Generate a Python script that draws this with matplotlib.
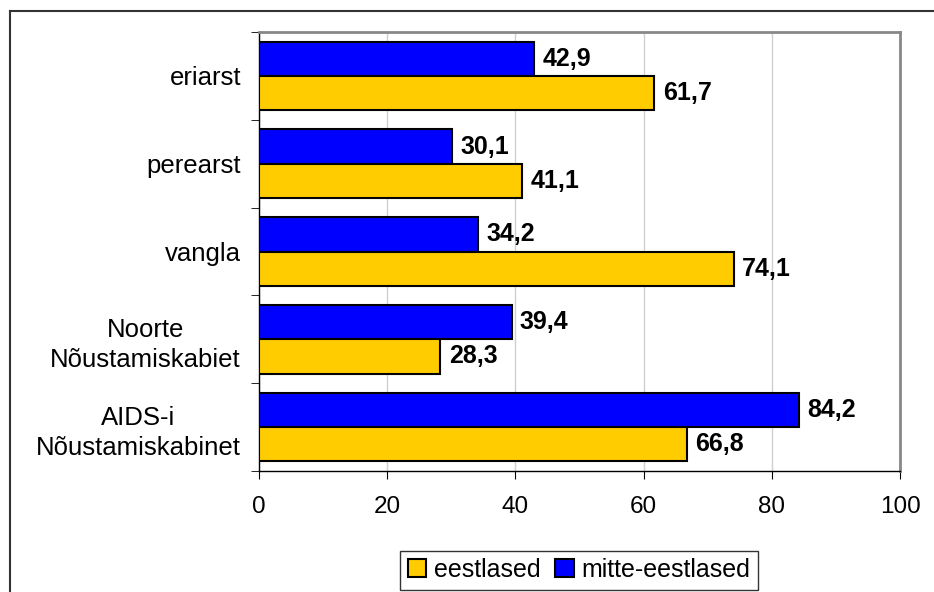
import numpy as np
import matplotlib.pyplot as plt
from matplotlib.lines import Line2D

categories = ["eriarst", "perearst", "vangla", "Noorte\nNõustamiskabiet", "AIDS-i\nNõustamiskabinet"]
eestlased = [61.7, 41.1, 74.1, 28.3, 66.8]
mitte_eestlased = [42.9, 30.1, 34.2, 39.4, 84.2]

plt.rcParams['font.family'] = ['Liberation Sans', 'DejaVu Sans']

fig = plt.figure(figsize=(9.34, 5.92), dpi=100)
ax = fig.add_axes([259/934, 1-471/592, (900-259)/934, (471-32)/592])

y = np.arange(len(categories))
h = 0.39
blue = ax.barh(y - h/2, mitte_eestlased, h, color="#0000FF", edgecolor="black", linewidth=1.5,
               label="mitte-eestlased", zorder=3)
yellow = ax.barh(y + h/2, eestlased, h, color="#FFCC00", edgecolor="black", linewidth=1.5,
                 label="eestlased", zorder=3)

for bars, vals in [(blue, mitte_eestlased), (yellow, eestlased)]:
    for b, v in zip(bars, vals):
        ax.annotate(f"{v:.1f}".replace(".", ","), (v, b.get_y() + b.get_height()/2),
                    xytext=(6, 0), textcoords="offset points", va="center", ha="left",
                    fontsize=18, fontweight="bold")

ax.set_xlim(0, 100)
ax.set_ylim(len(categories) - 0.5, -0.5)
ax.set_xticks(np.arange(0, 101, 20))
ax.tick_params(axis="x", labelsize=17.5, length=6, direction="out", pad=12)
ax.set_yticks(y)
ax.set_yticklabels(categories, fontsize=18.5, ha="right", multialignment="center",
                   linespacing=1.35)
ax.tick_params(axis="y", length=0, pad=13)
ax.set_yticks(np.arange(-0.5, len(categories)), minor=True)
ax.tick_params(axis="y", which="minor", length=6, direction="out")
ax.grid(axis="x", color="#d0d0d0", linewidth=1, zorder=0)

for s in ["top", "right"]:
    ax.spines[s].set_color("#888888")
    ax.spines[s].set_linewidth(2)
for s in ["left", "bottom"]:
    ax.spines[s].set_color("black")
    ax.spines[s].set_linewidth(1)

leg = fig.legend(handles=[yellow, blue], labels=["eestlased", "mitte-eestlased"],
                 loc="center", bbox_to_anchor=(579/934, 1-570/592), ncol=2, fontsize=18,
                 frameon=True, fancybox=False, handlelength=0.75, handleheight=0.75,
                 handletextpad=0.3, columnspacing=0.6, borderpad=0.3)
leg.get_frame().set_edgecolor("black")
leg.get_frame().set_linewidth(1)

# outer chart border (cut off at right and bottom)
fig.add_artist(Line2D([10/934, 10/934], [0, 1-11/592], color="#333333", linewidth=1.5))
fig.add_artist(Line2D([10/934, 1], [1-11/592, 1-11/592], color="#333333", linewidth=1.5))

fig.savefig("out.png", dpi=100)
